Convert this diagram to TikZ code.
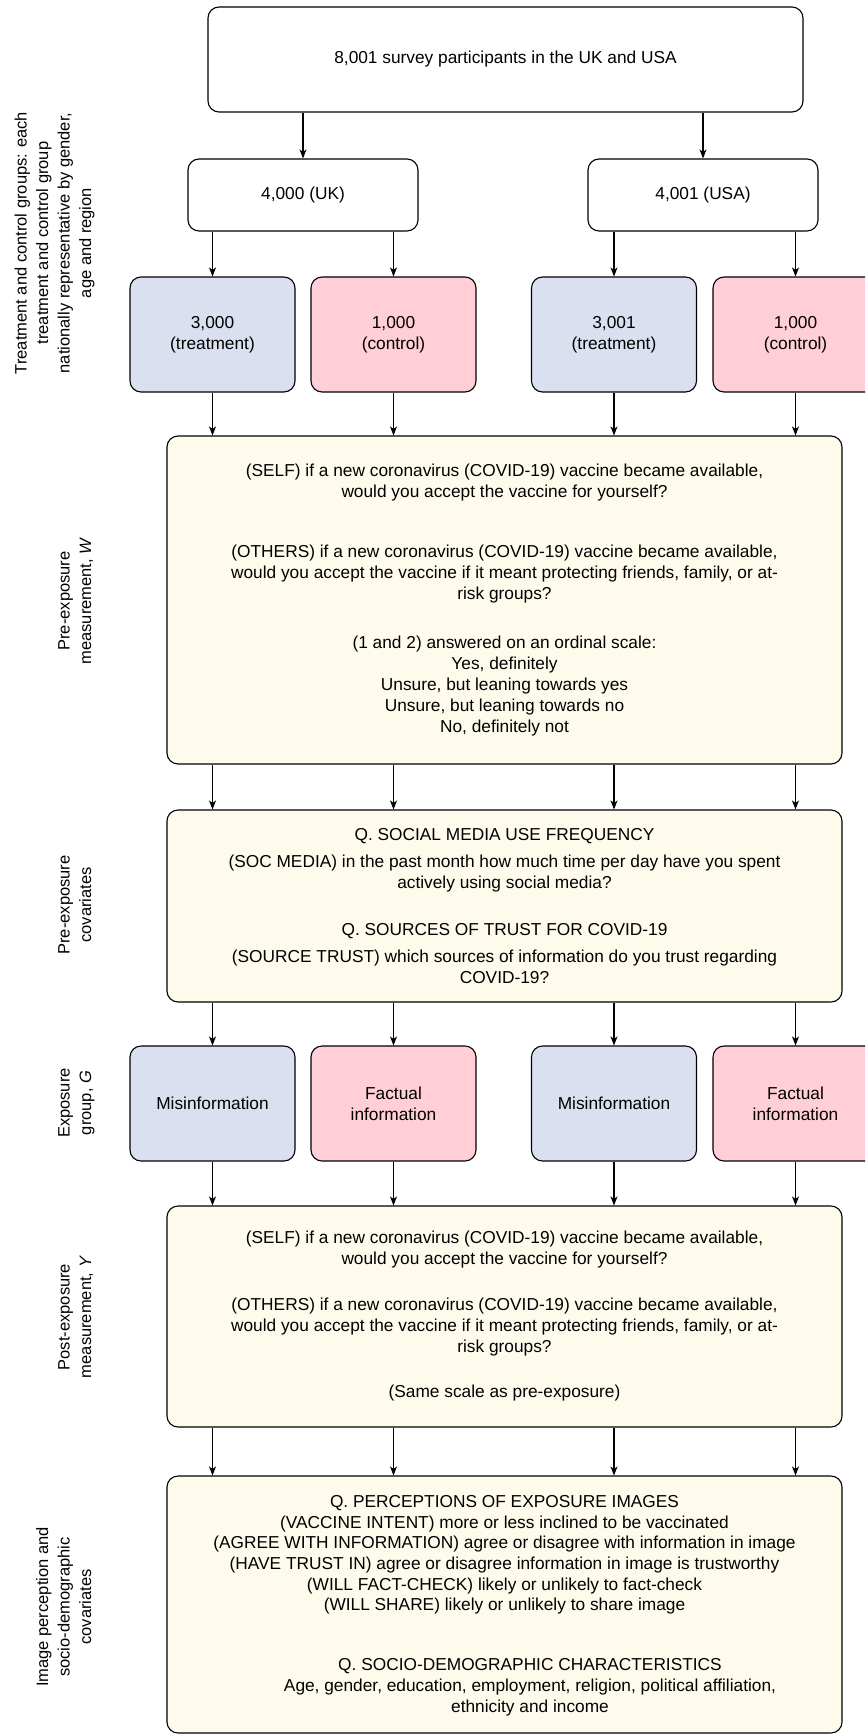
\documentclass[tikz,border=0pt]{standalone}
\usepackage{fontspec}
\setmainfont{Liberation Sans}
\usetikzlibrary{arrows.meta}
\definecolor{cream}{HTML}{FFFBEC}
\definecolor{treatblue}{HTML}{DAE0F0}
\definecolor{ctrlpink}{HTML}{FFCED6}

\begin{document}
\begin{tikzpicture}[x=1pt,y=-1pt,
  box/.style={draw,rounded corners=11pt,line width=1.1pt,align=center,inner sep=0pt,
    font=\fontsize{17.3}{21}\selectfont},
  big/.style={box,fill=cream,minimum width=675pt},
  grp/.style={box,minimum width=165pt,minimum height=115pt},
  side/.style={rotate=90,anchor=south,align=center,inner sep=0pt,
    font=\fontsize{16.5}{21.5}\selectfont},
  arr/.style={-{Stealth[length=9pt,width=7pt,inset=2.5pt]},line width=1.1pt}]
\clip (0,0) rectangle (865,1734);

% side labels
\node[side] (lgroups) at (97.8,243) {Treatment and control groups: each\\treatment and control group\\nationally representative by gender,\\age and region\strut};
\node[side] (lpre) at (97.8,601) {Pre-exposure\\measurement, \textit{W}\strut};
\node[side] (lcov) at (97.8,905) {Pre-exposure\\covariates\strut};
\node[side] (lexp) at (97.8,1103) {Exposure\\group, \textit{G}\strut};
\node[side] (lpost) at (97.8,1317) {Post-exposure\\measurement, \textit{Y}\strut};
\node[side] (lperc) at (97.8,1607) {Image perception and\\socio-demographic\\covariates\strut};

% sample
\node[box,fill=white,minimum width=595pt,minimum height=105pt] (all) at (505.5,59.5) {8,001 survey participants in the UK and USA};
\node[box,fill=white,minimum width=230pt,minimum height=72pt] (uk) at (303,195) {4,000 (UK)};
\node[box,fill=white,minimum width=230pt,minimum height=72pt] (usa) at (703,195) {4,001 (USA)};

\node[grp,fill=treatblue] (tuk) at (212.5,334.5) {3,000\\(treatment)};
\node[grp,fill=ctrlpink] (cuk) at (393.5,334.5) {1,000\\(control)};
\node[grp,fill=treatblue] (tus) at (614,334.5) {3,001\\(treatment)};
\node[grp,fill=ctrlpink] (cus) at (795.5,334.5) {1,000\\(control)};

% questionnaire blocks
\node[big,minimum height=328pt] (pre) at (504.5,600) {(SELF) if a new coronavirus (COVID-19) vaccine became available,\\would you accept the vaccine for yourself?\\[39pt]
(OTHERS) if a new coronavirus (COVID-19) vaccine became available,\\would you accept the vaccine if it meant protecting friends, family, or at-\\risk groups?\\[28pt]
(1 and 2) answered on an ordinal scale:\\Yes, definitely\\Unsure, but leaning towards yes\\Unsure, but leaning towards no\\No, definitely not};

\node[big,minimum height=192pt] (cov) at (504.5,906) {Q. SOCIAL MEDIA USE FREQUENCY\\[6pt]
(SOC MEDIA) in the past month how much time per day have you spent\\actively using social media?\\[26pt]
Q. SOURCES OF TRUST FOR COVID-19\\[6pt]
(SOURCE TRUST) which sources of information do you trust regarding\\COVID-19?};

\node[grp,fill=treatblue] (muk) at (212.5,1103.5) {Misinformation};
\node[grp,fill=ctrlpink] (fuk) at (393.5,1103.5) {Factual\\information};
\node[grp,fill=treatblue] (mus) at (614,1103.5) {Misinformation};
\node[grp,fill=ctrlpink] (fus) at (795.5,1103.5) {Factual\\information};

\node[big,minimum height=221pt] (post) at (504.5,1316.5) {(SELF) if a new coronavirus (COVID-19) vaccine became available,\\would you accept the vaccine for yourself?\\[25pt]
(OTHERS) if a new coronavirus (COVID-19) vaccine became available,\\would you accept the vaccine if it meant protecting friends, family, or at-\\risk groups?\\[24pt]
(Same scale as pre-exposure)};

\node[big,minimum height=257pt] (perc) at (504.5,1604.5) {};
\node[align=center,inner sep=0pt,font=\fontsize{17.3}{20.6}\selectfont] (ptxt) at (504.5,1555) {Q. PERCEPTIONS OF EXPOSURE IMAGES\\(VACCINE INTENT) more or less inclined to be vaccinated\\(AGREE WITH INFORMATION) agree or disagree with information in image\\(HAVE TRUST IN) agree or disagree information in image is trustworthy\\(WILL FACT-CHECK) likely or unlikely to fact-check\\(WILL SHARE) likely or unlikely to share image};
\node[align=center,inner sep=0pt,font=\fontsize{17.3}{21}\selectfont] (stxt) at (530,1687) {Q. SOCIO-DEMOGRAPHIC CHARACTERISTICS\\Age, gender, education, employment, religion, political affiliation,\\ethnicity and income};

% arrows
\draw[arr] (uk |- all.south) -- (uk);
\draw[arr] (usa |- all.south) -- (usa);
\draw[arr] (tuk |- uk.south) -- (tuk);
\draw[arr] (cuk |- uk.south) -- (cuk);
\draw[arr] (tus |- usa.south) -- (tus);
\draw[arr] (cus |- usa.south) -- (cus);

\draw[arr] (tuk) -- (tuk |- pre.north);
\draw[arr] (cuk) -- (cuk |- pre.north);
\draw[arr] (tus) -- (tus |- pre.north);
\draw[arr] (cus) -- (cus |- pre.north);

\draw[arr] (tuk |- pre.south) -- (tuk |- cov.north);
\draw[arr] (cuk |- pre.south) -- (cuk |- cov.north);
\draw[arr] (tus |- pre.south) -- (tus |- cov.north);
\draw[arr] (cus |- pre.south) -- (cus |- cov.north);

\draw[arr] (muk |- cov.south) -- (muk);
\draw[arr] (fuk |- cov.south) -- (fuk);
\draw[arr] (mus |- cov.south) -- (mus);
\draw[arr] (fus |- cov.south) -- (fus);

\draw[arr] (muk) -- (muk |- post.north);
\draw[arr] (fuk) -- (fuk |- post.north);
\draw[arr] (mus) -- (mus |- post.north);
\draw[arr] (fus) -- (fus |- post.north);

\draw[arr] (muk |- post.south) -- (muk |- perc.north);
\draw[arr] (fuk |- post.south) -- (fuk |- perc.north);
\draw[arr] (mus |- post.south) -- (mus |- perc.north);
\draw[arr] (fus |- post.south) -- (fus |- perc.north);
\end{tikzpicture}
\end{document}
